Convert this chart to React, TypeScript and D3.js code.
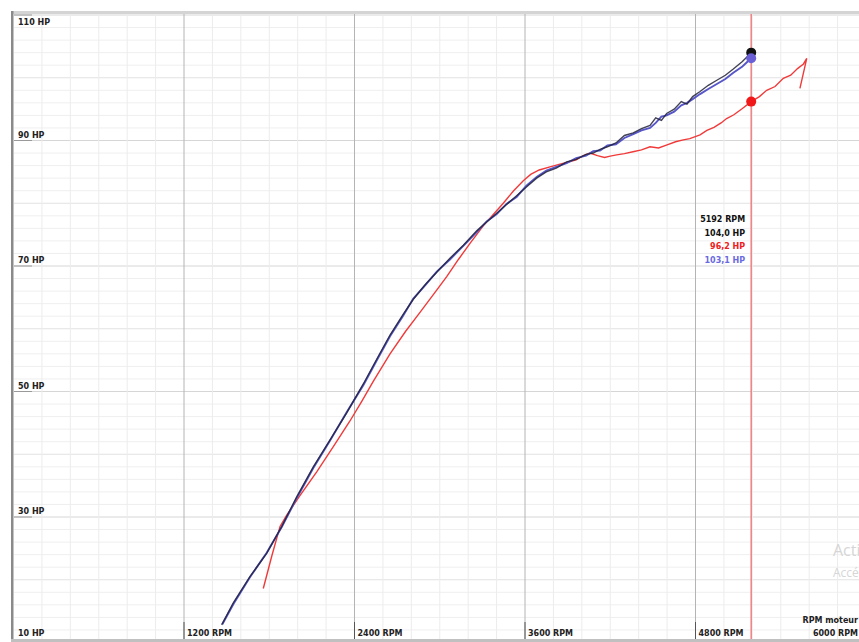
import React from "react";
import * as d3 from "d3";

const W = 859;
const H = 642;

const xTicks = [1200, 2400, 3600, 4800];
const yTicks = [10, 30, 50, 70, 90, 110];

const cursorRpm = 5192;
const cursorLabels = ["5192 RPM", "104,0 HP", "96,2 HP", "103,1 HP"];

const darkRpm = [1465, 1547, 1664, 1782, 1888, 1993, 2110, 2228, 2345, 2462, 2560, 2650, 2740, 2814, 2900, 2979, 3070, 3166, 3260, 3330, 3401, 3470, 3541, 3610, 3682, 3750, 3820, 3893, 3960, 4030, 4080, 4128, 4180, 4240, 4300, 4362, 4420, 4480, 4520, 4560, 4597, 4650, 4700, 4740, 4780, 4832, 4890, 4950, 5010, 5066, 5130, 5192];
const darkHp = [12.8, 16.3, 20.5, 24.2, 28.5, 33.2, 38.0, 42.3, 46.6, 51.2, 55.3, 59.0, 62.2, 64.7, 67.1, 69.0, 71.2, 73.3, 75.6, 77.0, 78.4, 79.8, 81.2, 82.6, 84.0, 85.0, 85.6, 86.6, 87.0, 87.8, 88.0, 88.6, 89.0, 89.6, 90.8, 91.2, 91.9, 92.4, 93.6, 93.2, 94.3, 95.0, 96.2, 95.8, 97.0, 97.8, 98.8, 99.6, 100.4, 101.4, 102.6, 104.0];

const blueRpm = [1470, 1550, 1664, 1782, 1888, 1993, 2110, 2228, 2345, 2462, 2560, 2650, 2740, 2814, 2900, 2979, 3070, 3166, 3260, 3330, 3401, 3470, 3541, 3610, 3682, 3750, 3820, 3893, 3960, 4030, 4080, 4128, 4180, 4240, 4300, 4362, 4420, 4480, 4520, 4560, 4597, 4650, 4700, 4740, 4780, 4832, 4890, 4950, 5010, 5066, 5130, 5192];
const blueHp = [12.9, 16.2, 20.4, 24.3, 28.4, 33.0, 37.8, 42.2, 46.7, 51.0, 55.1, 58.8, 62.0, 64.8, 67.0, 69.1, 71.0, 73.2, 75.4, 77.1, 78.3, 79.9, 81.0, 82.8, 84.2, 85.2, 85.8, 86.4, 87.2, 87.6, 88.3, 88.4, 89.2, 89.4, 90.4, 91.0, 91.6, 92.0, 92.8, 93.8, 94.0, 94.6, 95.6, 96.0, 96.6, 97.4, 98.2, 99.0, 99.8, 100.8, 101.8, 103.1];

const redRpm = [1758, 1817, 1876, 1923, 2016, 2134, 2251, 2368, 2450, 2532, 2650, 2760, 2861, 2960, 3049, 3130, 3213, 3306, 3380, 3447, 3520, 3588, 3640, 3700, 3776, 3840, 3893, 3960, 4010, 4057, 4110, 4160, 4200, 4245, 4300, 4360, 4420, 4480, 4540, 4600, 4660, 4714, 4760, 4832, 4880, 4930, 4980, 5019, 5070, 5130, 5192, 5250, 5301, 5360, 5418, 5470, 5520, 5560, 5583, 5535];
const redHp = [18.6, 23.7, 28.5, 30.3, 33.4, 37.2, 41.2, 45.3, 48.4, 51.6, 56.0, 59.6, 62.6, 65.6, 68.3, 71.0, 73.6, 76.4, 78.3, 80.0, 82.0, 83.6, 84.6, 85.3, 85.8, 86.2, 86.5, 86.9, 87.6, 88.0, 87.6, 87.3, 87.5, 87.7, 87.9, 88.2, 88.5, 89.0, 88.8, 89.3, 89.8, 90.1, 90.3, 90.9, 91.6, 92.1, 92.8, 93.5, 94.1, 95.1, 96.2, 97.0, 98.0, 98.6, 99.9, 100.4, 101.5, 102.2, 103.1, 98.3];

const dotValues = [104.0, 103.1, 96.2];
const dotColors = ["#111111", "#6b5fd6", "#f01818"];
const labelColors = ["#111111", "#111111", "#ee2020", "#6a6ae0"];

export default function App() {
  const x = d3.scaleLinear().domain([0, 6000]).range([13.5, 866]);
  const y = d3.scaleLinear().domain([10, 110]).range([642.5, 15]);

  const line = d3
    .line<[number, number]>()
    .x((d) => x(d[0]))
    .y((d) => y(d[1]));

  const zip = (a: number[], b: number[]) => a.map((v, i) => [v, b[i]] as [number, number]);

  const minorX = d3.range(200, 6001, 200).filter((v) => v % 1200 !== 0);
  const minorY = d3.range(12, 110, 2).filter((v) => v % 10 !== 0);
  const midY = d3.range(20, 110, 10).filter((v) => (v - 10) % 20 !== 0);
  const font = "'DejaVu Sans', Verdana, sans-serif";
  const cx = x(cursorRpm);

  return (
    <svg
      width={W}
      height={H}
      style={{ position: "absolute", left: 0, top: 0, background: "#fff" }}
    >
      <defs>
        <clipPath id="plot">
          <rect x={14} y={14} width={W} height={625} />
        </clipPath>
      </defs>
      <g clipPath="url(#plot)">
        {minorY.map((v) => (
          <line key={"my" + v} x1={14} x2={W} y1={y(v)} y2={y(v)} stroke="#efefef" strokeWidth={1} />
        ))}
        {midY.map((v) => (
          <line key={"dy" + v} x1={14} x2={W} y1={y(v)} y2={y(v)} stroke="#e2e2e2" strokeWidth={1} />
        ))}
        {yTicks.map((v) => (
          <line key={"ty" + v} x1={14} x2={W} y1={y(v)} y2={y(v)} stroke="#d6d6d6" strokeWidth={1} />
        ))}
        {minorX.map((v) => (
          <line key={"mx" + v} x1={x(v)} x2={x(v)} y1={14} y2={H} stroke="#ececec" strokeWidth={1} />
        ))}
        {xTicks.map((v) => (
          <line key={"tx" + v} x1={x(v)} x2={x(v)} y1={14} y2={H} stroke="#b4b4b4" strokeWidth={1} />
        ))}
        {xTicks.map((v) => (
          <line key={"tk" + v} x1={x(v)} x2={x(v)} y1={622} y2={H} stroke="#555" strokeWidth={1} />
        ))}
        {yTicks.map((v) => (
          <line key={"yk" + v} x1={14} x2={32} y1={y(v)} y2={y(v)} stroke="#999" strokeWidth={1} />
        ))}

        <line x1={cx} x2={cx} y1={14} y2={H} stroke="#ee8080" strokeWidth={1.5} />

        <path d={line(zip(redRpm, redHp)) || ""} fill="none" stroke="#f03a3a" strokeWidth={1.4} />
        <path d={line(zip(blueRpm, blueHp)) || ""} fill="none" stroke="#5656c8" strokeWidth={1.9} />
        <path d={line(zip(darkRpm, darkHp)) || ""} fill="none" stroke="#22223a" strokeWidth={1.4} strokeOpacity={0.85} />

        {dotValues.map((v, i) => (
          <circle key={"dot" + i} cx={cx} cy={y(v)} r={5} fill={dotColors[i]} />
        ))}
      </g>

      <rect x={11} y={11} width={W} height={3} fill="#d4d4d4" />
      <rect x={11} y={11} width={2.5} height={H} fill="#8a8a8a" />
      <rect x={11} y={639} width={W} height={3} fill="#c0c0c0" />

      {yTicks.map((v) => (
        <text
          key={"yl" + v}
          x={18}
          y={v === 110 ? 25 : v === 10 ? 636 : y(v) - 3}
          fontFamily={font}
          fontWeight="bold"
          fontSize={8}
          fill="#222"
        >
          {v} HP
        </text>
      ))}
      {xTicks.map((v) => (
        <text
          key={"xl" + v}
          x={x(v) + 3}
          y={636}
          fontFamily={font}
          fontWeight="bold"
          fontSize={8}
          fill="#222"
        >
          {v} RPM
        </text>
      ))}
      <text x={858} y={623} textAnchor="end" fontFamily={font} fontWeight="bold" fontSize={8} fill="#222">
        RPM moteur
      </text>
      <text x={858} y={636} textAnchor="end" fontFamily={font} fontWeight="bold" fontSize={8} fill="#222">
        6000 RPM
      </text>

      {cursorLabels.map((t, i) => (
        <text
          key={"cl" + i}
          x={cx - 6}
          y={222 + i * 13.5}
          textAnchor="end"
          fontFamily={font}
          fontWeight="bold"
          fontSize={8}
          fill={labelColors[i]}
        >
          {t}
        </text>
      ))}

      <text x={833} y={556} fontFamily="'Open Sans', 'DejaVu Sans', sans-serif" fontSize={16} fill="#d6d6d6">
        Activer Windows
      </text>
      <text x={833} y={577} fontFamily="'Open Sans', 'DejaVu Sans', sans-serif" fontSize={12} fill="#d6d6d6">
        Accédez aux paramètres pour activer Windows.
      </text>
    </svg>
  );
}
